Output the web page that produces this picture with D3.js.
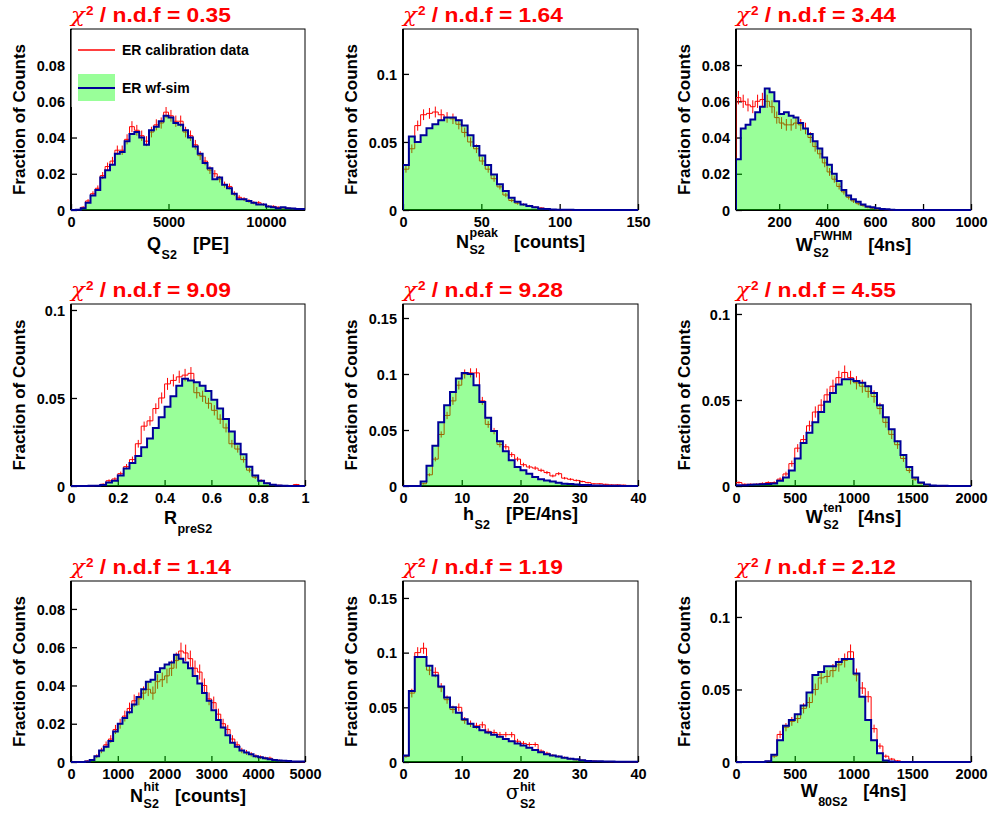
<!DOCTYPE html>
<html><head><meta charset="utf-8">
<script src="https://cdn.jsdelivr.net/npm/d3@7"></script>
<style>
body{margin:0;background:#fff;}
svg{display:block;}
text{font-family:"Liberation Sans",Arial,Helvetica,sans-serif;font-weight:bold;fill:#000;}
</style></head><body>
<svg id="chart" width="992" height="814"></svg>
<script>
// ---------------- data ----------------
const chi2Values = ["0.35","1.64","3.44","9.09","9.28","4.55","1.14","1.19","2.12"];
const legendLabels = ["ER calibration data","ER wf-sim"];
const yAxisTitle = "Fraction of Counts";
// x-axis titles: main symbol, superscript, subscript, unit
const xMain = ["Q","N","W","R","h","W","N","σ","W"];
const xSup  = [null,"peak","FWHM",null,null,"ten","hit","hit",null];
const xSub  = ["S2","S2","S2","preS2","S2","S2","S2","S2","80S2"];
const xUnit = ["[PE]","[counts]","[4ns]",null,"[PE/4ns]","[4ns]","[counts]",null,"[4ns]"];

const binLo    = [0, 0, 20, 0, 0, 0, 0, 0, 0];
const binWidth = [250, 3.75, 20, 0.025, 1, 50, 100, 1, 50];
const xLo = [0, 0, 20, 0, 0, 0, 0, 0, 0];
const xHi = [12000, 150, 1000, 1, 40, 2000, 5000, 40, 2000];
const yHi = [0.0999, 0.133, 0.0999, 0.1034, 0.1625, 0.1058, 0.0946, 0.1655, 0.1248];
const xTickValues = [[0,5000,10000],[0,50,100,150],[200,400,600,800,1000],[0,0.2,0.4,0.6,0.8,1],[0,10,20,30,40],[0,500,1000,1500,2000],[0,1000,2000,3000,4000,5000],[0,10,20,30,40],[0,500,1000,1500,2000]];
const yTickValues = [[0,0.02,0.04,0.06,0.08],[0,0.05,0.1],[0,0.02,0.04,0.06,0.08],[0,0.05,0.1],[0,0.05,0.1,0.15],[0,0.05,0.1],[0,0.02,0.04,0.06,0.08],[0,0.05,0.1,0.15],[0,0.05,0.1]];
// number of data events (sets the statistical error bars sqrt(f/N))
const eventCount = [5000, 4500, 4500, 5000, 6000, 4000, 3000, 4000, 3000];

// Q_S2
const simQS2  = [0,0.0002,0.001,0.004,0.008,0.011,0.018,0.022,0.025,0.031,0.032,0.038,0.042,0.043,0.040,0.036,0.044,0.046,0.049,0.052,0.051,0.048,0.047,0.044,0.040,0.035,0.031,0.026,0.023,0.017,0.018,0.014,0.012,0.009,0.006,0.006,0.005,0.004,0.003,0.003,0.002,0.0015,0.001,0.0015,0.001,0.0008,0.0005,0.0005];
const dataQS2 = [0,0.0003,0.0015,0.005,0.009,0.012,0.019,0.024,0.027,0.033,0.033,0.039,0.046,0.044,0.041,0.038,0.043,0.047,0.048,0.054,0.052,0.049,0.049,0.043,0.041,0.036,0.030,0.027,0.022,0.020,0.017,0.014,0.013,0.009,0.007,0.006,0.005,0.004,0.004,0.003,0.002,0.002,0.0015,0.0012,0.001,0.0008,0.0006,0.0004];
// N_peak
const simNpeak  = [0.033,0.054,0.050,0.055,0.060,0.063,0.066,0.068,0.068,0.066,0.062,0.055,0.047,0.040,0.033,0.026,0.019,0.014,0.009,0.006,0.004,0.003,0.002,0.001,0.0007,0.0004,0.0002,0.0001,0.0001,0,0,0,0,0,0,0,0,0,0,0];
const dataNpeak = [0.030,0.045,0.062,0.070,0.071,0.072,0.070,0.068,0.067,0.063,0.057,0.050,0.045,0.036,0.030,0.023,0.017,0.011,0.007,0.005,0.004,0.003,0.002,0.0015,0.0005,0.0003,0.0002,0.0001,0,0,0,0,0,0,0,0,0,0,0,0];
// W_FWHM
const simWfwhm  = [0.028,0.045,0.047,0.050,0.054,0.057,0.067,0.065,0.060,0.053,0.054,0.052,0.051,0.048,0.045,0.042,0.038,0.034,0.029,0.025,0.020,0.016,0.011,0.008,0.006,0.0045,0.003,0.002,0.0015,0.001,0.0006,0.0004,0.0002,0,0,0,0,0,0,0,0,0,0,0,0,0,0,0,0];
const dataWfwhm = [0.062,0.060,0.058,0.057,0.060,0.061,0.060,0.057,0.051,0.048,0.047,0.047,0.048,0.047,0.045,0.040,0.035,0.031,0.026,0.021,0.017,0.013,0.010,0.007,0.005,0.0035,0.0025,0.0015,0.001,0.0006,0.0004,0.0002,0.0001,0,0,0,0,0,0,0,0,0,0,0,0,0,0,0,0];
// R_preS2
const simRpre  = [0,0,0,0.0001,0.0002,0.0005,0.002,0.003,0.006,0.010,0.013,0.017,0.022,0.027,0.033,0.039,0.045,0.051,0.057,0.061,0.060,0.059,0.057,0.054,0.049,0.044,0.038,0.031,0.024,0.018,0.011,0.006,0.003,0.0015,0.0007,0.0003,0.0001,0,0,0];
const dataRpre = [0,0,0,0.0001,0.0003,0.001,0.003,0.004,0.007,0.011,0.015,0.024,0.034,0.037,0.044,0.050,0.058,0.060,0.062,0.063,0.064,0.053,0.051,0.047,0.043,0.038,0.033,0.024,0.021,0.015,0.009,0.005,0.003,0.0015,0.0008,0.0004,0.0002,0.0003,0.0008,0.0003];
// h_S2
const simH  = [0,0,0,0.004,0.018,0.036,0.057,0.072,0.084,0.096,0.101,0.100,0.090,0.075,0.061,0.049,0.040,0.031,0.023,0.017,0.014,0.011,0.008,0.006,0.005,0.004,0.003,0.002,0.0017,0.0013,0.001,0.0008,0.0005,0.0004,0.0003,0.0002,0.0002,0.0001,0.0001,0];
const dataH = [0,0,0,0.002,0.010,0.024,0.046,0.063,0.076,0.090,0.100,0.101,0.101,0.076,0.055,0.049,0.037,0.035,0.028,0.024,0.019,0.017,0.016,0.014,0.012,0.009,0.011,0.007,0.006,0.005,0.004,0.003,0.002,0.002,0.0015,0.001,0.001,0.0008,0.0005,0.0004];
// W_ten
const simWten  = [0.0005,0.0005,0.0007,0.0008,0.001,0.0012,0.0015,0.003,0.005,0.009,0.016,0.025,0.031,0.037,0.043,0.049,0.054,0.059,0.062,0.062,0.061,0.060,0.058,0.054,0.047,0.040,0.033,0.026,0.018,0.011,0.005,0.002,0.0008,0.0003,0.0001,0.0001,0,0,0,0];
const dataWten = [0.002,0.001,0.001,0.001,0.0015,0.002,0.002,0.004,0.007,0.013,0.022,0.027,0.035,0.043,0.047,0.053,0.058,0.063,0.066,0.063,0.060,0.058,0.055,0.052,0.045,0.037,0.030,0.024,0.016,0.009,0.004,0.0015,0.0005,0.0003,0.0002,0.0001,0,0,0,0];
// N_hit
const simNhit  = [0,0,0,0.0003,0.001,0.003,0.006,0.008,0.011,0.016,0.020,0.023,0.026,0.030,0.034,0.038,0.042,0.043,0.047,0.049,0.051,0.052,0.056,0.054,0.052,0.049,0.045,0.041,0.036,0.032,0.027,0.022,0.018,0.014,0.010,0.008,0.006,0.005,0.004,0.003,0.0025,0.002,0.0015,0.001,0.0008,0.0006,0.0005,0.0003,0.0002,0.0002];
const dataNhit = [0,0,0,0.0005,0.001,0.003,0.006,0.009,0.012,0.017,0.020,0.024,0.028,0.032,0.033,0.036,0.038,0.036,0.042,0.043,0.045,0.049,0.053,0.058,0.057,0.054,0.049,0.047,0.040,0.033,0.031,0.025,0.020,0.017,0.012,0.009,0.006,0.005,0.004,0.003,0.0025,0.002,0.002,0.001,0.0008,0.0005,0.0004,0.0002,0.0002,0.0001];
// sigma_hit
const simSigma  = [0.006,0.065,0.096,0.096,0.088,0.079,0.069,0.059,0.050,0.045,0.039,0.035,0.032,0.029,0.027,0.025,0.023,0.021,0.019,0.017,0.015,0.013,0.011,0.009,0.007,0.006,0.005,0.004,0.003,0.0025,0.0015,0.001,0.0008,0.0006,0.0005,0.0004,0.0003,0.0002,0.0002,0.0002];
const dataSigma = [0.005,0.063,0.100,0.104,0.084,0.082,0.068,0.057,0.048,0.050,0.038,0.035,0.033,0.034,0.028,0.027,0.025,0.025,0.025,0.019,0.017,0.016,0.016,0.010,0.008,0.006,0.005,0.004,0.003,0.002,0.0015,0.001,0.0008,0.0005,0.0004,0.0003,0.0002,0.0002,0.0001,0.0001];
// W_80
const simW80  = [0,0,0,0,0,0.0005,0.005,0.015,0.025,0.029,0.033,0.039,0.048,0.060,0.062,0.066,0.066,0.069,0.071,0.071,0.061,0.045,0.029,0.015,0.006,0.001,0.0003,0,0,0,0,0,0,0,0,0,0,0,0,0];
const dataW80 = [0,0,0,0,0,0.0005,0.004,0.019,0.024,0.028,0.030,0.037,0.041,0.050,0.058,0.059,0.063,0.067,0.070,0.076,0.060,0.051,0.045,0.023,0.011,0.004,0.002,0.0008,0.0002,0,0,0,0,0,0,0,0,0,0,0];

const simSeries  = [simQS2, simNpeak, simWfwhm, simRpre, simH, simWten, simNhit, simSigma, simW80];
const dataSeries = [dataQS2, dataNpeak, dataWfwhm, dataRpre, dataH, dataWten, dataNhit, dataSigma, dataW80];

// ---------------- layout ----------------
const colLeft = [71, 403, 736], colRight = [305, 638, 971];
const rowTop = [29, 304, 581], rowBottom = [210, 486, 762];
const xTitleOffset = [40, 38, 41, 38, 34, 37, 40, 37, 35];
const RED = "#ff0000", BLUE = "#000099", FILL = "rgba(0,255,0,0.4)";

const svg = d3.select("#chart");
const fmt = d => String(+d.toFixed(4));

function stepPoints(lo, w, vals) {
  const pts = [{x: lo, y: 0}];
  vals.forEach((v, i) => pts.push({x: lo + i * w, y: v}));
  pts.push({x: lo + vals.length * w, y: vals[vals.length - 1]});
  pts.push({x: lo + vals.length * w, y: 0});
  return pts;
}

let titleScale = null;

for (let p = 0; p < 9; p++) {
  const c = p % 3, r = Math.floor(p / 3);
  const L = colLeft[c], R = colRight[c], T = rowTop[r], B = rowBottom[r];
  const x = d3.scaleLinear().domain([xLo[p], xHi[p]]).range([L, R]);
  const y = d3.scaleLinear().domain([0, yHi[p]]).range([B, T]);
  const g = svg.append("g");

  const clipId = "clip" + p;
  g.append("clipPath").attr("id", clipId).append("rect")
    .attr("x", L).attr("y", T).attr("width", R - L).attr("height", B - T + 2);

  // frame
  g.append("rect").attr("x", L).attr("y", T).attr("width", R - L).attr("height", B - T)
    .attr("fill", "none").attr("stroke", "#000").attr("stroke-width", 1);
  // axes via d3
  const yAx = d3.axisLeft(y).tickValues(yTickValues[p]).tickSize(-6).tickFormat(fmt);
  const gy = g.append("g").attr("transform", `translate(${L},0)`).call(yAx);
  const xAx = d3.axisBottom(x).tickValues(xTickValues[p]).tickSize(-6).tickFormat(fmt);
  const gx = g.append("g").attr("transform", `translate(0,${B})`).call(xAx);
  [gy, gx].forEach(ga => {
    ga.select(".domain").attr("stroke", "#000").attr("stroke-width", 2);
    ga.selectAll(".tick line").attr("stroke", "#000").attr("stroke-width", 1.3);
    ga.selectAll(".tick text").style("font-size", "14.5px").style("font-family", "'Liberation Sans',Arial,sans-serif").style("font-weight", "bold").attr("fill", "#000");
  });
  gy.select(".domain").attr("d", `M0,${T}V${B}`);
  gx.select(".domain").attr("d", `M${L},0H${R}`);
  gx.selectAll(".tick text").attr("y", 17).attr("dy", 0);
  gy.selectAll(".tick text").attr("x", -6).attr("dy", "0.36em");

  const plot = g.append("g").attr("clip-path", `url(#${clipId})`);
  const lo = binLo[p], w = binWidth[p];
  const dataVals = dataSeries[p], simVals = simSeries[p];
  const lineGen = d3.line().x(d => x(d.x)).y(d => y(d.y)).curve(d3.curveStepAfter);
  const areaGen = d3.area().x(d => x(d.x)).y0(y(0)).y1(d => y(d.y)).curve(d3.curveStepAfter);

  // data histogram with error bars
  plot.append("path").attr("d", lineGen(stepPoints(lo, w, dataVals)))
    .attr("fill", "none").attr("stroke", RED).attr("stroke-width", 1);
  plot.append("g").selectAll("line").data(dataVals.map((v, i) => ({v, i})).filter(d => d.v > 0))
    .join("line")
    .attr("x1", d => x(lo + (d.i + 0.5) * w)).attr("x2", d => x(lo + (d.i + 0.5) * w))
    .attr("y1", d => y(d.v - Math.sqrt(d.v / eventCount[p])))
    .attr("y2", d => y(d.v + Math.sqrt(d.v / eventCount[p])))
    .attr("stroke", RED).attr("stroke-width", 1);

  // simulation fill + outline
  const simPts = stepPoints(lo, w, simVals);
  plot.append("path").attr("d", areaGen(simPts)).attr("fill", FILL).attr("stroke", "none");
  plot.append("path").attr("d", lineGen(simPts)).attr("fill", "none").attr("stroke", BLUE).attr("stroke-width", 2);

  // legend (first panel)
  if (p === 0) {
    const lg = g.append("g");
    lg.append("rect").attr("x", L + 0.6).attr("y", T + 1).attr("width", 190).attr("height", 77).attr("fill", "#fff");
    lg.append("line").attr("x1", L + 7).attr("x2", L + 44).attr("y1", T + 21).attr("y2", T + 21).attr("stroke", RED).attr("stroke-width", 1.3);
    lg.append("text").attr("x", L + 51).attr("y", T + 25.5).style("font-size", "14px").text(legendLabels[0]);
    lg.append("rect").attr("x", L + 7).attr("y", T + 45).attr("width", 37).attr("height", 27).attr("fill", FILL);
    lg.append("line").attr("x1", L + 7).attr("x2", L + 44).attr("y1", T + 59).attr("y2", T + 59).attr("stroke", BLUE).attr("stroke-width", 2);
    lg.append("text").attr("x", L + 51).attr("y", T + 63.5).style("font-size", "14px").text(legendLabels[1]);
  }

  // title: chi2 / ndf
  const tg = g.append("g");
  const tt = tg.append("text").attr("x", 0).attr("y", 0).attr("fill", RED).style("fill", RED);
  tt.append("tspan").style("font-family", "'DejaVu Serif','Liberation Serif',serif").style("font-weight", "normal").style("font-size", "21px").style("font-style", "italic").text("χ");
  tt.append("tspan").style("font-size", "12.5px").attr("dy", -7).attr("dx", 1).text("2");
  tt.append("tspan").style("font-size", "21px").attr("dy", 7).text(" / n.d.f = " + chi2Values[p]);
  if (titleScale === null) titleScale = 159 / tt.node().getComputedTextLength();
  tg.attr("transform", `translate(${L},${T - 7}) scale(${titleScale},1)`);

  // y title
  g.append("text").attr("transform", `translate(${L - 46},${(T + B) / 2}) rotate(-90)`)
    .attr("text-anchor", "middle").style("font-size", "17px").text(yAxisTitle);

  // x title (main + stacked sup/sub + unit), centred on the frame
  const xg = g.append("g");
  const base = B + xTitleOffset[p];
  const greek = xMain[p] === "σ";
  let cx = 0;
  const mt = xg.append("text").attr("x", 0).attr("y", base).style("font-size", "18px").text(xMain[p]);
  if (greek) mt.style("font-family", "'DejaVu Serif','Liberation Serif',serif").style("font-weight", "normal").style("font-size", "20px");
  cx += mt.node().getComputedTextLength() + 0.5;
  let w2 = 0;
  if (xSup[p]) {
    const t = xg.append("text").attr("x", cx).attr("y", base - (greek ? 8 : 11.5)).style("font-size", "12.5px").text(xSup[p]);
    w2 = Math.max(w2, t.node().getComputedTextLength());
  }
  if (xSub[p]) {
    const t = xg.append("text").attr("x", cx).attr("y", base + (xSup[p] ? (greek ? 9 : 6) : 9)).style("font-size", "12.5px").text(xSub[p]);
    w2 = Math.max(w2, t.node().getComputedTextLength());
  }
  cx += w2;
  if (xUnit[p]) {
    cx += 16;
    const t = xg.append("text").attr("x", cx).attr("y", base).style("font-size", "18px").text(xUnit[p]);
    cx += t.node().getComputedTextLength();
  }
  xg.attr("transform", `translate(${(L + R) / 2 - cx / 2},0)`);
}
</script>
</body></html>
